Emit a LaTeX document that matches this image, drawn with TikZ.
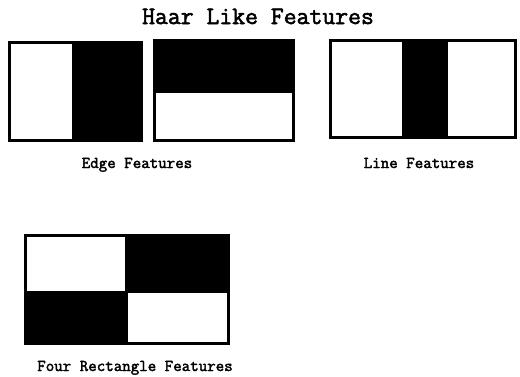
\documentclass[tikz,border=0pt]{standalone}
\usepackage{fontspec}
\newfontfamily\courbold[FakeBold=2.2]{Latin Modern Mono}
\begin{document}
\begin{tikzpicture}[x=1pt,y=-1pt,
  lbl/.style={font=\courbold\fontsize{16.5}{18}\selectfont, inner sep=0pt, anchor=base},
  ttl/.style={font=\courbold\fontsize{25}{27}\selectfont, inner sep=0pt, anchor=base},
  blk/.style={fill=black},
  wht/.style={fill=white}]
\useasboundingbox[fill=white] (0,0) rectangle (520,376);
% Title
\node[ttl] (title) at (258,24) {Haar Like Features};
% Edge feature 1
\fill[blk] (8,41) rectangle (143,142);
\fill[wht] (11,44) rectangle (72,139);
% Edge feature 2
\fill[blk] (153,39) rectangle (295,142);
\fill[wht] (156,93) rectangle (292,139);
% Line feature
\fill[blk] (329,39) rectangle (517,139);
\fill[wht] (332,42) rectangle (402,136);
\fill[wht] (448,42) rectangle (514,136);
% Four rectangle feature
\fill[blk] (24,234) rectangle (230,345);
\fill[wht] (27,237) rectangle (125,291);
\fill[wht] (128,293) rectangle (227,342);
% Labels
\node[lbl] (edge) at (137,168) {Edge Features};
\node[lbl] (line) at (419,168) {Line Features};
\node[lbl] (four) at (135,371) {Four Rectangle Features};
\end{tikzpicture}
\end{document}
